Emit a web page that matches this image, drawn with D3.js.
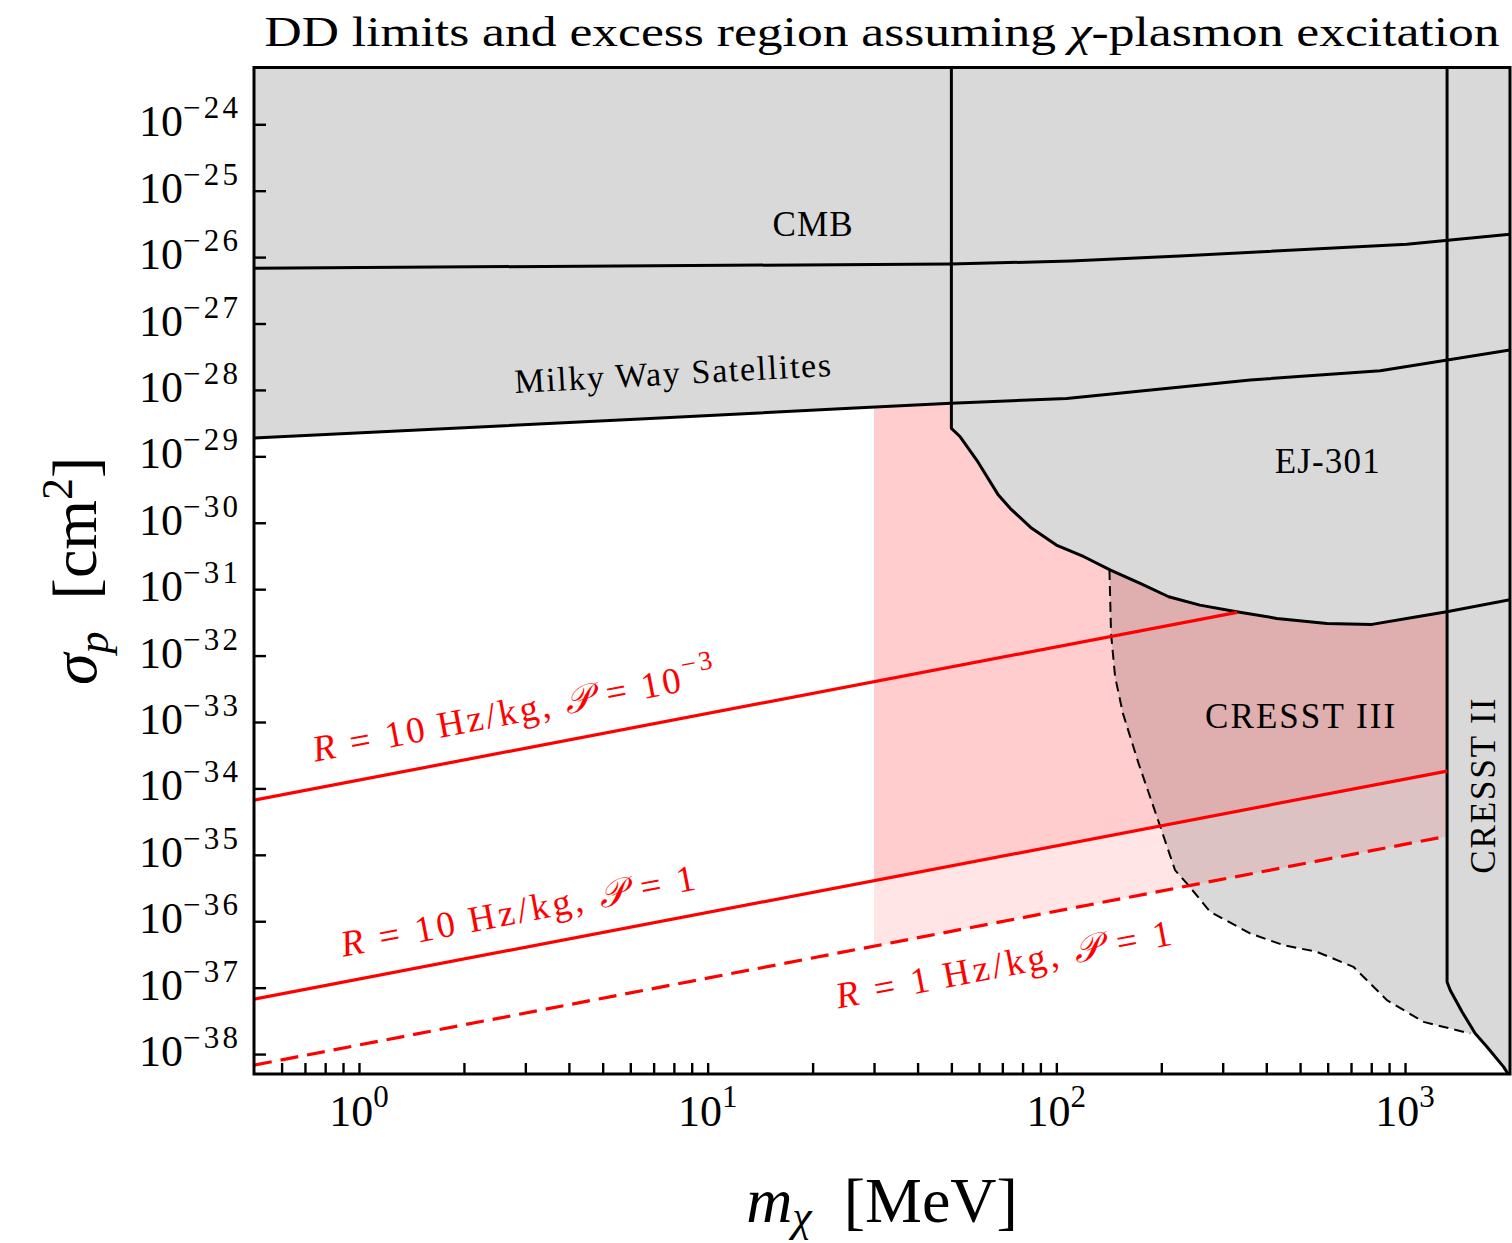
<!DOCTYPE html>
<html><head><meta charset="utf-8">
<script src="https://cdn.jsdelivr.net/npm/d3@7"></script>
<style>
body{margin:0;background:#fff;}
svg{display:block;}
text{font-family:"Liberation Serif","Times New Roman",Times,serif;fill:#000;}
</style>
</head><body>
<svg id="chart" width="1512" height="1243" font-family="Liberation Serif, Times New Roman, serif"></svg>
<script>
// ---------------- data (mass in MeV, cross-section in cm^2) ----------------
const xDomain = [0.5, 2000];
const yDomain = [5.01e-39, 7.16e-24];

const xMajorTicks = [1, 10, 100, 1000];
const xMajorExp = ["0", "1", "2", "3"];
const yMajorTicks = [1e-24,1e-25,1e-26,1e-27,1e-28,1e-29,1e-30,1e-31,1e-32,1e-33,1e-34,1e-35,1e-36,1e-37,1e-38];
const yMajorExp = ["−24","−25","−26","−27","−28","−29","−30","−31","−32","−33","−34","−35","−36","−37","−38"];

const cmbMass  = [0.5, 49.6, 110, 226, 1012, 2000];
const cmbSigma = [6.82e-27, 7.87e-27, 8.73e-27, 1.04e-26, 1.56e-26, 2.20e-26];

const mwMass  = [0.5, 6.4, 25.6, 49.8, 107, 360, 849, 2000];
const mwSigma = [1.89e-29, 3.65e-29, 5.28e-29, 6.28e-29, 7.46e-29, 1.41e-28, 1.95e-28, 3.99e-28];

const ejMass  = [50, 50, 53, 59.1, 68.2, 73.7, 85, 100, 120, 143, 174, 210, 258, 329, 429, 597, 804, 1082, 1318, 2000];
const ejSigma = [1e-22, 2.64e-29, 1.97e-29, 8.79e-30, 2.61e-30, 1.65e-30, 8.24e-31, 4.61e-31, 3.08e-31, 1.94e-31, 1.22e-31, 7.69e-32, 5.75e-32, 4.57e-32, 3.63e-32, 3.05e-32, 2.95e-32, 3.84e-32, 4.57e-32, 6.92e-32];

const cresst2Mass  = [1320, 1320, 1348, 1457, 1590, 1719, 1917, 2070];
const cresst2Sigma = [1e-22, 1.22e-37, 9.16e-38, 4.33e-38, 2.04e-38, 1.28e-38, 6.41e-39, 3.39e-39];

const cresst3Mass  = [142, 143.5, 147.4, 155.2, 172.1, 194.3, 219, 236.7, 276, 359.5, 448, 558.6, 711, 887, 1130, 1538];
const cresst3Sigma = [1.95e-31, 2.16e-32, 4.80e-33, 1.35e-33, 2.38e-34, 3.73e-35, 5.87e-36, 3.71e-36, 1.39e-36, 6.55e-37, 4.37e-37, 3.46e-37, 2.06e-37, 6.49e-38, 3.05e-38, 2.04e-38];

// red rate lines (endpoints)
const rateP3Mass  = [0.5, 330];  const rateP3Sigma  = [6.67e-35, 4.47e-32];   // R=10 Hz/kg, P=1e-3
const rate10Mass  = [0.5, 1320]; const rate10Sigma  = [6.71e-38, 1.82e-34];   // R=10 Hz/kg, P=1
const rate1Mass   = [0.5, 1320]; const rate1Sigma   = [6.81e-39, 1.91e-35];   // R=1 Hz/kg, P=1

const excessMass = [30, 1320];   // mass range of the excess band

// ---------------- layout ----------------
const M = {left:254, right:1510, top:67.5, bottom:1074};
const x = d3.scaleLog().domain(xDomain).range([M.left, M.right]);
const y = d3.scaleLog().domain(yDomain).range([M.bottom, M.top]);
const svg = d3.select('#chart');
const GRAY = '#d9d9d9';
const TOPV = 1e-22, FAR = 1e5;
const LW = 3;

svg.append('defs').append('clipPath').attr('id','clip')
  .append('rect').attr('x',M.left).attr('y',M.top)
  .attr('width',M.right-M.left).attr('height',M.bottom-M.top);
const g = svg.append('g').attr('clip-path','url(#clip)');

const zip = (a,b) => a.map((v,i)=>[v,b[i]]);
const path = d3.line().x(d=>x(d[0])).y(d=>y(d[1]));
const closed = d3.line().x(d=>x(d[0])).y(d=>y(d[1])).curve(d3.curveLinearClosed);

function interp(ms, ss, m){
  const lm = Math.log10(m);
  for(let i=0;i<ms.length-1;i++){
    const a=Math.log10(ms[i]), b=Math.log10(ms[i+1]);
    if(lm>=a && lm<=b && b>a){
      const t=(lm-a)/(b-a);
      return Math.pow(10, Math.log10(ss[i])*(1-t)+Math.log10(ss[i+1])*t);
    }
  }
  return ss[ss.length-1];
}

const cmb = zip(cmbMass, cmbSigma);
const mw = zip(mwMass, mwSigma);
const ej = zip(ejMass, ejSigma);
const c2 = zip(cresst2Mass, cresst2Sigma);
const c3 = zip(cresst3Mass, cresst3Sigma);

// gray exclusion regions
g.append('path').attr('d', closed([...cmb, [cmb[cmb.length-1][0], TOPV], [cmb[0][0], TOPV]])).attr('fill',GRAY);
g.append('path').attr('d', closed([...mw, [mw[mw.length-1][0], TOPV], [mw[0][0], TOPV]])).attr('fill',GRAY);
g.append('path').attr('d', closed([...ej, [ej[ej.length-1][0], TOPV]])).attr('fill',GRAY);
g.append('path').attr('d', closed([...c3, [FAR, c3[c3.length-1][1]], [FAR, TOPV], [c3[0][0], TOPV]])).attr('fill',GRAY);
g.append('path').attr('d', closed([...c2, [FAR, c2[c2.length-1][1]], [FAR, TOPV]])).attr('fill',GRAY);

// excess bands
const [m0, m1] = excessMass;
const ejStart = ejMass[1];
const upper = [];
upper.push([m0, interp(mwMass, mwSigma, m0)]);
mw.forEach(p=>{ if(p[0]>m0 && p[0]<ejStart) upper.push(p); });
upper.push([ejStart, interp(mwMass, mwSigma, ejStart)]);
ej.slice(1).forEach(p=>{ if(p[0]<m1) upper.push(p); });
upper.push([m1, interp(ejMass.slice(1), ejSigma.slice(1), m1)]);

[[rate10Mass, rate10Sigma],[rate1Mass, rate1Sigma]].forEach(([ms,ss])=>{
  const poly = [...upper, [m1, interp(ms,ss,m1)], [m0, interp(ms,ss,m0)]];
  g.append('path').attr('d', closed(poly)).attr('fill','rgba(255,0,0,0.1)');
});

// boundary lines
const blk = (pts, w, dash) => {
  const p = g.append('path').attr('d', path(pts)).attr('fill','none')
    .attr('stroke','#000').attr('stroke-width', w).attr('stroke-linejoin','round');
  if(dash) p.attr('stroke-dasharray', dash);
};
blk(cmb, LW); blk(mw, LW); blk(ej, LW); blk(c2, LW);
blk(c3, 2, '10,6');

// red lines
const red = (ms, ss, dash) => {
  const p = g.append('path').attr('d', path(zip(ms,ss))).attr('fill','none')
    .attr('stroke','#ff0000').attr('stroke-width',3.2);
  if(dash) p.attr('stroke-dasharray', dash);
};
red(rateP3Mass, rateP3Sigma);
red(rate10Mass, rate10Sigma);
red(rate1Mass, rate1Sigma, '18,9');

// ---------------- labels in plot ----------------
const ang = (ms,ss) => Math.atan2(y(ss[1])-y(ss[0]), x(ms[1])-x(ms[0]))*180/Math.PI;
const la = ang(rate10Mass, rate10Sigma);

function redLabel(m, s, rate, pval, exp, len){
  const t = svg.append('text')
    .attr('transform', `translate(${x(m)},${y(s)}) rotate(${la})`)
    .attr('font-size', 37).style('fill','#ff0000').attr('textLength', len);
  t.append('tspan').attr('font-style','italic').text('R');
  t.append('tspan').text(' = ' + rate + '\u2009Hz/kg,  ');
  t.append('tspan').attr('font-style','italic').text('𝒫');
  t.append('tspan').text(' = ' + pval);
  if(exp){ t.append('tspan').attr('dy',-17).attr('font-size',27).text(exp); }
}
redLabel(0.748, 2.52e-34, '10', '10', '−3', 409);
redLabel(0.902, 2.91e-37, '10', '1', null, 360);
redLabel(23.7, 4.86e-38, '1', '1', null, 341);

svg.append('text').attr('x', x(20.0)).attr('y', y(2.08e-26)).attr('text-anchor','middle')
  .attr('font-size',35).attr('textLength',80).text('CMB');
svg.append('text').attr('transform', `translate(${x(2.8)},${y(8.97e-29)}) rotate(-3.1)`)
  .attr('font-size',34).attr('textLength',317).text('Milky Way Satellites');
svg.append('text').attr('x', x(598)).attr('y', y(5.61e-30)).attr('text-anchor','middle')
  .attr('font-size',35).attr('textLength',105).text('EJ-301');
svg.append('text').attr('x', x(500)).attr('y', y(8.09e-34)).attr('text-anchor','middle')
  .attr('font-size',35).attr('textLength',190).text('CRESST III');
svg.append('text').attr('transform', `translate(${x(1815)},${y(1.08e-34)}) rotate(-90)`)
  .attr('text-anchor','middle').attr('font-size',35).attr('textLength',175).text('CRESST II');

// ---------------- axes ----------------
const xMinor = [];
[0.1,1,10,100].forEach(dec=>{ for(let k=2;k<10;k++){ const v=k*dec; if(v>xDomain[0] && v<xDomain[1]) xMinor.push(v); } });
const gx = svg.append('g').attr('transform',`translate(0,${M.bottom})`)
  .call(d3.axisBottom(x).tickValues([...xMajorTicks, ...xMinor]).tickSize(-11).tickSizeOuter(0).tickFormat(''));
gx.select('.domain').remove();
gx.selectAll('.tick line').attr('stroke','#000').attr('stroke-width',2.4);

const gy = svg.append('g').attr('transform',`translate(${M.left},0)`)
  .call(d3.axisLeft(y).tickValues(yMajorTicks).tickSize(-12).tickSizeOuter(0).tickFormat(''));
gy.select('.domain').remove();
gy.selectAll('.tick line').attr('stroke','#000').attr('stroke-width',2.4);

const xl = svg.append('g').selectAll('text').data(xMajorTicks).join('text')
  .attr('x', d=>x(d)).attr('y', M.bottom+52).attr('text-anchor','middle').attr('font-size',44);
xl.append('tspan').text('10');
xl.append('tspan').attr('dy',-19).attr('font-size',31).text((d,i)=>xMajorExp[i]);

const yl = svg.append('g').selectAll('text').data(yMajorTicks).join('text')
  .attr('x', M.left-16).attr('y', d=>y(d)+12).attr('text-anchor','end').attr('font-size',44);
yl.append('tspan').text('10');
yl.append('tspan').attr('dy',-18).attr('font-size',31).attr('textLength',55).text((d,i)=>yMajorExp[i]);

// frame
svg.append('rect').attr('x',M.left).attr('y',M.top).attr('width',M.right-M.left).attr('height',M.bottom-M.top)
  .attr('fill','none').attr('stroke','#000').attr('stroke-width',LW);

// axis titles
const xt = svg.append('text').attr('x', (M.left+M.right)/2).attr('y', 1222).attr('text-anchor','middle').attr('font-size',64);
xt.append('tspan').attr('font-style','italic').text('m');
xt.append('tspan').attr('font-style','italic').attr('font-size',44).attr('dy',9).text('χ');
xt.append('tspan').attr('dy',-9).text('\u2002[MeV]');

const yt = svg.append('text').attr('transform',`translate(96,${(M.top+M.bottom)/2}) rotate(-90)`)
  .attr('text-anchor','middle').attr('font-size',64);
yt.append('tspan').attr('font-style','italic').text('σ');
yt.append('tspan').attr('font-style','italic').attr('font-size',44).attr('dy',12).text('p');
yt.append('tspan').attr('dy',-12).text('\u2002[cm');
yt.append('tspan').attr('dy',-24).attr('font-size',44).text('2');
yt.append('tspan').attr('dy',24).text(']');

// title
const tt = svg.append('text').attr('x',(M.left+M.right)/2).attr('y',46).attr('text-anchor','middle')
  .attr('font-size',43).attr('textLength',1235).attr('lengthAdjust','spacingAndGlyphs');
tt.append('tspan').text('DD limits and excess region assuming ');
tt.append('tspan').attr('font-style','italic').text('χ');
tt.append('tspan').text('-plasmon excitation');
</script>
</body></html>
